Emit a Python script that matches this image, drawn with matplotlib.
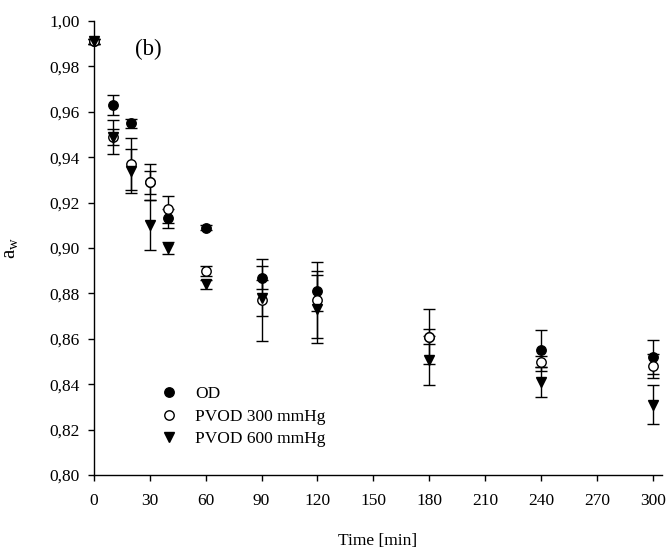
import matplotlib
matplotlib.use("Agg")
import matplotlib.pyplot as plt
from matplotlib.ticker import FuncFormatter, MultipleLocator
from matplotlib.lines import Line2D

plt.rcParams['font.family'] = ['Liberation Serif', 'DejaVu Serif']
plt.rcParams['mathtext.fontset'] = 'custom'
plt.rcParams['mathtext.rm'] = 'Liberation Serif'
plt.rcParams['mathtext.it'] = 'Liberation Serif:italic'

time_min = [0, 10, 20, 30, 40, 60, 90, 120, 180, 240, 300]
od = [0.991, 0.963, 0.955, 0.929, 0.913, 0.909, 0.887, 0.881, 0.861, 0.855, 0.852]
od_err = [0.001, 0.0045, 0.002, 0.005, 0.004, 0.001, 0.005, 0.0088, 0.0035, 0.009, 0.0075]
pvod300 = [0.991, 0.949, 0.937, 0.929, 0.917, 0.890, 0.877, 0.877, 0.861, 0.850, 0.848]
pvod300_err = [0.001, 0.0035, 0.0115, 0.008, 0.006, 0.0022, 0.018, 0.0167, 0.012, 0.0025, 0.0052]
pvod600 = [0.991, 0.949, 0.934, 0.910, 0.900, 0.884, 0.878, 0.873, 0.8505, 0.841, 0.831]
pvod600_err = [0.001, 0.0075, 0.0097, 0.011, 0.0025, 0.002, 0.008, 0.015, 0.0108, 0.0065, 0.0085]
labels = ['OD', 'PVOD 300 mmHg', 'PVOD 600 mmHg']

fig = plt.figure(figsize=(6.7, 5.52), dpi=100)
ax = fig.add_axes([94/670, 1-475/552, (662-94)/670, (475-21)/552])

common = dict(ecolor='black', elinewidth=1.0, capsize=4.3, capthick=1.0,
              linestyle='none', clip_on=False)
ax.errorbar(time_min, od, yerr=od_err, marker='o', ms=6.8, mfc='black',
            mec='black', **common)
ax.errorbar(time_min, pvod300, yerr=pvod300_err, marker='o', ms=6.8, mfc='white',
            mec='black', mew=1.0, **common)
ax.errorbar(time_min, pvod600, yerr=pvod600_err, marker='v', ms=7.8, mfc='black',
            mec='black', **common)

ax.set_xlim(0, 305)
ax.set_ylim(0.80, 1.00)
ax.xaxis.set_major_locator(MultipleLocator(30))
ax.yaxis.set_major_locator(MultipleLocator(0.02))
ax.yaxis.set_major_formatter(FuncFormatter(lambda v, p: f"{v:.2f}".replace('.', ',')))
ax.spines['top'].set_visible(False)
ax.spines['right'].set_visible(False)
for s in ['left', 'bottom']:
    ax.spines[s].set_linewidth(1.0)
ax.tick_params(axis='both', direction='out', length=4, width=1.0, labelsize=12.5)
ax.tick_params(axis='x', pad=9)
ax.tick_params(axis='y', pad=6)

ax.set_xlabel('Time [min]', fontsize=12.5, labelpad=17)
ax.set_ylabel(r'a$_\mathrm{w}$', fontsize=15)
ax.yaxis.set_label_coords(-0.13, 0.5)

ax.text(0.095, 0.937, '(b)', transform=ax.transAxes, fontsize=16.5, ha='center', va='center')

handles = [
    Line2D([], [], marker='o', ms=6.8, mfc='black', mec='black', linestyle='none'),
    Line2D([], [], marker='o', ms=6.8, mfc='white', mec='black', linestyle='none'),
    Line2D([], [], marker='v', ms=7.8, mfc='black', mec='black', linestyle='none'),
]
ax.legend(handles, labels, loc='upper left', bbox_to_anchor=(0.105, 0.211),
          frameon=False, fontsize=12.5, handlelength=1.0, handletextpad=1.0,
          labelspacing=0.36, borderaxespad=0)

fig.savefig('out.png', dpi=100)
